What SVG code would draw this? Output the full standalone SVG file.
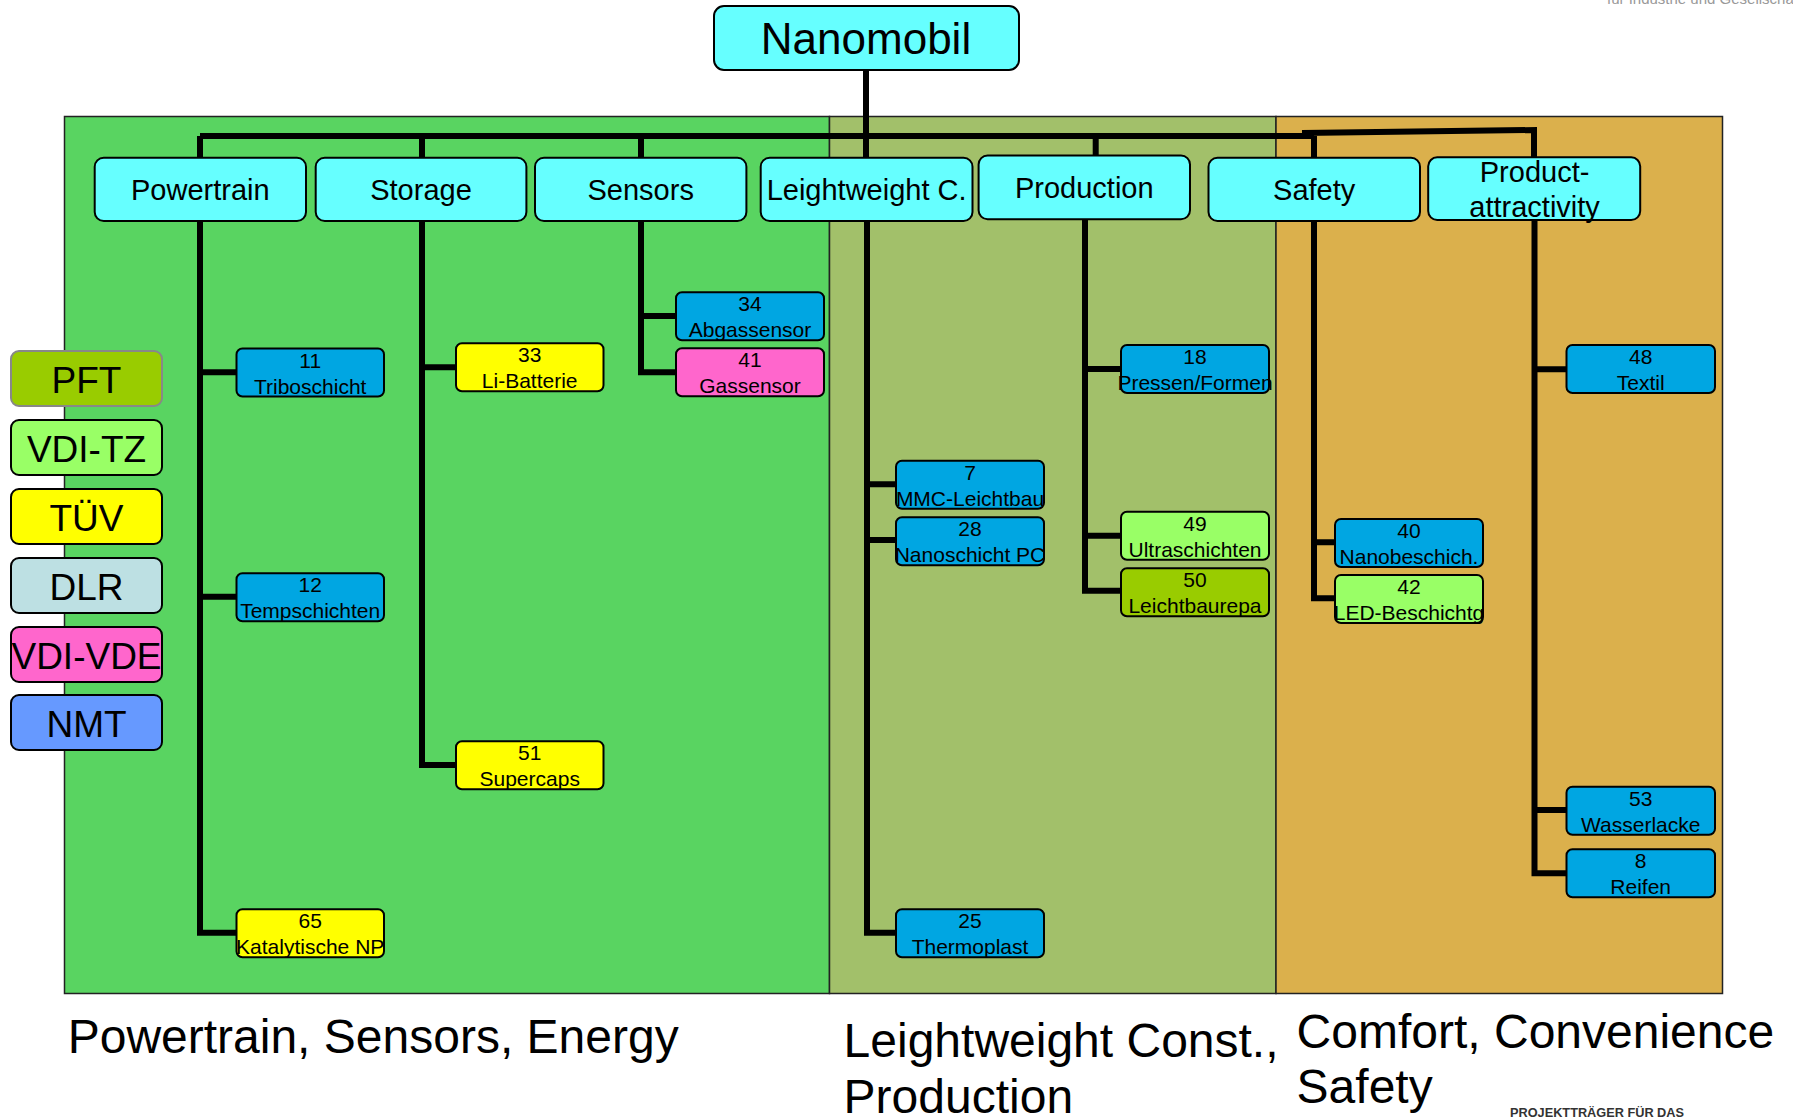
<svg xmlns="http://www.w3.org/2000/svg" width="1793" height="1119" viewBox="0 0 1793 1119">
<defs>
<style>
text{font-family:"Liberation Sans",Arial,sans-serif;fill:#000}
.region{stroke:#222;stroke-width:1.5}
.top{fill:#66FFFF;stroke:#000;stroke-width:2}
.cat{fill:#66FFFF;stroke:#000;stroke-width:2}
.leaf{stroke:#000;stroke-width:2}
.blue{fill:#00A6E2}
.yel{fill:#FFFF00}
.pink{fill:#FF66CC}
.lgreen{fill:#99FF66}
.ygreen{fill:#99CC00}
.cattxt{font-size:29px;text-anchor:middle}
.leaftxt{font-size:21px;text-anchor:middle}
.legtxt{font-size:37px;text-anchor:middle}
.bigtxt{font-size:48px}
.conn{fill:none;stroke:#000;stroke-width:6}
.leg{stroke:#000;stroke-width:2}
</style>
</defs>
<rect width="1793" height="1119" fill="#fff"/>
<text x="1607" y="4" style="font-size:15px;fill:#999">für Industrie und Gesellschaft</text>

<g id="regions">
<rect class="region" x="64.5" y="116.5" width="765" height="877" fill="#59D461"/>
<rect class="region" x="829.5" y="116.5" width="446.5" height="877" fill="#A2C06A"/>
<rect class="region" x="1276" y="116.5" width="446.5" height="877" fill="#DBB04C"/>
</g>

<g id="connectors">
<path class="conn" d="M866,70 V158"/>
<path class="conn" d="M200,136 H1314"/>
<path class="conn" d="M1302,133 L1534,130 V158"/>
<path class="conn" d="M200,136 V158 M422,136 V158 M641,136 V158 M1095.7,136 V156 M1314,136 V158"/>
<path class="conn" d="M200,221 V932.7 H237 M200,372.3 H237 M200,596.7 H237"/>
<path class="conn" d="M422,221 V765 H456 M422,367.3 H456"/>
<path class="conn" d="M641,221 V372.3 H676 M641,316 H676"/>
<path class="conn" d="M867,221 V932.7 H896 M867,484.3 H896 M867,540 H896"/>
<path class="conn" d="M1085,219 V590.7 H1121 M1085,369 H1121 M1085,535.7 H1121"/>
<path class="conn" d="M1314,221 V598.3 H1335 M1314,542.3 H1335"/>
<path class="conn" d="M1534.5,220 V873.3 H1566.5 M1534.5,369.3 H1566.5 M1534.5,810 H1566.5"/>
</g>

<g id="nanomobil">
<rect class="top" x="714" y="6" width="305" height="64" rx="10"/>
<text x="866" y="54" style="font-size:44px;text-anchor:middle">Nanomobil</text>
</g>

<g id="powertrain"><rect class="cat" x="94.7" y="157.7" width="211.3" height="63.3" rx="9"/><text class="cattxt" x="200.3" y="200">Powertrain</text></g>
<g id="storage"><rect class="cat" x="315.7" y="157.7" width="210.7" height="63.3" rx="9"/><text class="cattxt" x="421" y="200">Storage</text></g>
<g id="sensors"><rect class="cat" x="535" y="157.7" width="211.4" height="63.3" rx="9"/><text class="cattxt" x="640.7" y="200">Sensors</text></g>
<g id="leightweight"><rect class="cat" x="760.7" y="157.7" width="211.8" height="63.3" rx="9"/><text class="cattxt" x="866.6" y="200">Leightweight C.</text></g>
<g id="production"><rect class="cat" x="978.6" y="155.5" width="211.4" height="63.8" rx="9"/><text class="cattxt" x="1084.3" y="198">Production</text></g>
<g id="safety"><rect class="cat" x="1208.5" y="157.7" width="211.5" height="63.3" rx="9"/><text class="cattxt" x="1314.2" y="200">Safety</text></g>
<g id="product-attractivity"><rect class="cat" x="1428.2" y="157.3" width="212" height="62.7" rx="9"/><text class="cattxt" x="1534.6" y="181.7">Product-</text><text class="cattxt" x="1534.6" y="216.7">attractivity</text></g>

<g id="n11"><rect class="leaf blue" x="236.5" y="348.5" width="147.5" height="48" rx="6"/><text class="leaftxt" x="310.2" y="367.5">11</text><text class="leaftxt" x="310.2" y="393.5">Triboschicht</text></g>
<g id="n12"><rect class="leaf blue" x="236.5" y="573.3" width="147.5" height="48" rx="6"/><text class="leaftxt" x="310.2" y="592.3">12</text><text class="leaftxt" x="310.2" y="618.3">Tempschichten</text></g>
<g id="n65"><rect class="leaf yel" x="236.5" y="909.3" width="147.5" height="48" rx="6"/><text class="leaftxt" x="310.2" y="928.3">65</text><text class="leaftxt" x="310.2" y="954.3">Katalytische NP</text></g>
<g id="n33"><rect class="leaf yel" x="456" y="343.3" width="147.5" height="48" rx="6"/><text class="leaftxt" x="529.7" y="362.3">33</text><text class="leaftxt" x="529.7" y="388.3">Li-Batterie</text></g>
<g id="n51"><rect class="leaf yel" x="456" y="741.3" width="147.5" height="48" rx="6"/><text class="leaftxt" x="529.7" y="760.3">51</text><text class="leaftxt" x="529.7" y="786.3">Supercaps</text></g>
<g id="n34"><rect class="leaf blue" x="676" y="292.3" width="148" height="48" rx="6"/><text class="leaftxt" x="750" y="311.3">34</text><text class="leaftxt" x="750" y="337.3">Abgassensor</text></g>
<g id="n41"><rect class="leaf pink" x="676" y="348.3" width="148" height="48" rx="6"/><text class="leaftxt" x="750" y="367.3">41</text><text class="leaftxt" x="750" y="393.3">Gassensor</text></g>
<g id="n7"><rect class="leaf blue" x="896" y="460.7" width="148" height="48" rx="6"/><text class="leaftxt" x="970" y="479.7">7</text><text class="leaftxt" x="970" y="505.7">MMC-Leichtbau</text></g>
<g id="n28"><rect class="leaf blue" x="896" y="517.3" width="148" height="48" rx="6"/><text class="leaftxt" x="970" y="536.3">28</text><text class="leaftxt" x="970" y="562.3">Nanoschicht PC</text></g>
<g id="n25"><rect class="leaf blue" x="896" y="909.3" width="148" height="48" rx="6"/><text class="leaftxt" x="970" y="928.3">25</text><text class="leaftxt" x="970" y="954.3">Thermoplast</text></g>
<g id="n18"><rect class="leaf blue" x="1121" y="345" width="148" height="48" rx="6"/><text class="leaftxt" x="1195" y="364">18</text><text class="leaftxt" x="1195" y="390">Pressen/Formen</text></g>
<g id="n49"><rect class="leaf lgreen" x="1121" y="511.7" width="148" height="48" rx="6"/><text class="leaftxt" x="1195" y="530.7">49</text><text class="leaftxt" x="1195" y="556.7">Ultraschichten</text></g>
<g id="n50"><rect class="leaf ygreen" x="1121" y="568.3" width="148" height="48" rx="6"/><text class="leaftxt" x="1195" y="587.3">50</text><text class="leaftxt" x="1195" y="613.3">Leichtbaurepa</text></g>
<g id="n40"><rect class="leaf blue" x="1335" y="519" width="148" height="48" rx="6"/><text class="leaftxt" x="1409" y="538">40</text><text class="leaftxt" x="1409" y="564">Nanobeschich.</text></g>
<g id="n42"><rect class="leaf lgreen" x="1335" y="575" width="148" height="48" rx="6"/><text class="leaftxt" x="1409" y="594">42</text><text class="leaftxt" x="1409" y="620">LED-Beschichtg</text></g>
<g id="n48"><rect class="leaf blue" x="1566.5" y="345" width="148.5" height="48" rx="6"/><text class="leaftxt" x="1640.7" y="364">48</text><text class="leaftxt" x="1640.7" y="390">Textil</text></g>
<g id="n53"><rect class="leaf blue" x="1566.5" y="786.7" width="148.5" height="48" rx="6"/><text class="leaftxt" x="1640.7" y="805.7">53</text><text class="leaftxt" x="1640.7" y="831.7">Wasserlacke</text></g>
<g id="n8"><rect class="leaf blue" x="1566.5" y="849.3" width="148.5" height="48" rx="6"/><text class="leaftxt" x="1640.7" y="868.3">8</text><text class="leaftxt" x="1640.7" y="894.3">Reifen</text></g>

<g id="legend-pft"><rect x="11" y="351" width="151" height="55" rx="8" fill="#99CC00" stroke="#888" stroke-width="2"/><text class="legtxt" x="86.5" y="392.5">PFT</text></g>
<g id="legend-vditz"><rect class="leg" x="11" y="420" width="151" height="55" rx="8" fill="#99FF66"/><text class="legtxt" x="86.5" y="461.5">VDI-TZ</text></g>
<g id="legend-tuev"><rect class="leg" x="11" y="489" width="151" height="55" rx="8" fill="#FFFF00"/><text class="legtxt" x="86.5" y="530.5">TÜV</text></g>
<g id="legend-dlr"><rect class="leg" x="11" y="558" width="151" height="55" rx="8" fill="#BDE0E3"/><text class="legtxt" x="86.5" y="599.5">DLR</text></g>
<g id="legend-vdivde"><rect class="leg" x="11" y="627" width="151" height="55" rx="8" fill="#FF66CC"/><text class="legtxt" x="86.5" y="668.5">VDI-VDE</text></g>
<g id="legend-nmt"><rect class="leg" x="11" y="695" width="151" height="55" rx="8" fill="#6699FF"/><text class="legtxt" x="86.5" y="736.5">NMT</text></g>

<g id="labels">
<text class="bigtxt" x="67.7" y="1053">Powertrain, Sensors, Energy</text>
<text class="bigtxt" x="843.6" y="1057">Leightweight Const.,</text>
<text class="bigtxt" x="843.6" y="1113">Production</text>
<text class="bigtxt" x="1296.6" y="1048">Comfort, Convenience</text>
<text class="bigtxt" x="1296.6" y="1103">Safety</text>
<text x="1510" y="1117" textLength="174" lengthAdjust="spacingAndGlyphs" style="font-size:13px;font-weight:bold;fill:#333">PROJEKTTRÄGER FÜR DAS</text>
</g>
</svg>
